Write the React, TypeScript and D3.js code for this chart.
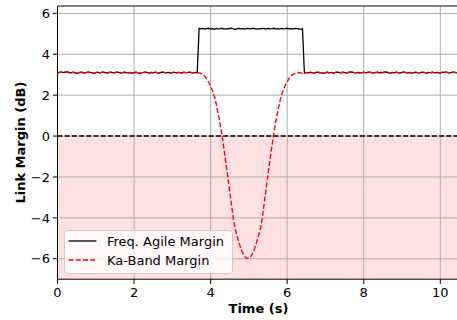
import React, { useRef, useEffect } from "react";
import * as d3 from "d3";

// samples every 0.05 s starting at t = 0
const sampleStep = 0.05;

// t = 0 .. 3.65 s, both links on the same Ka-band margin
const preJump = [
  3.08, 3.11, 3.13, 3.10, 3.12, 3.14, 3.11, 3.09, 3.12, 3.10,
  3.07, 3.09, 3.12, 3.11, 3.08, 3.10, 3.13, 3.11, 3.09, 3.07,
  3.10, 3.12, 3.09, 3.11, 3.13, 3.10, 3.08, 3.11, 3.12, 3.09,
  3.10, 3.13, 3.11, 3.08, 3.10, 3.12, 3.10, 3.09, 3.11, 3.08,
  3.10, 3.12, 3.09, 3.07, 3.10, 3.11, 3.13, 3.10, 3.08, 3.11,
  3.09, 3.12, 3.10, 3.08, 3.11, 3.13, 3.10, 3.09, 3.11, 3.08,
  3.10, 3.12, 3.09, 3.11, 3.10, 3.08, 3.12, 3.10, 3.11, 3.13,
  3.10, 3.09, 3.11, 3.10,
];

// t = 3.70 .. 6.40 s, agile link switched band
const agileHigh = [
  5.27, 5.24, 5.26, 5.23, 5.25, 5.27, 5.24, 5.25, 5.22, 5.26,
  5.24, 5.25, 5.27, 5.23, 5.25, 5.24, 5.26, 5.28, 5.24, 5.22,
  5.25, 5.26, 5.24, 5.25, 5.23, 5.26, 5.25, 5.24, 5.27, 5.25,
  5.23, 5.25, 5.24, 5.26, 5.25, 5.23, 5.26, 5.24, 5.25, 5.27,
  5.24, 5.25, 5.23, 5.26, 5.24, 5.25, 5.27, 5.24, 5.25, 5.23,
  5.26, 5.25, 5.24, 5.22, 5.24,
];

// t = 3.70 .. 6.20 s, Ka-band fade
const kaDip = [
  3.09, 3.06, 3.01, 2.93, 2.78, 2.62, 2.45,
  2.22, 1.93, 1.55, 1.08, 0.56, 0.0, -0.64, -1.32, -2.0, -2.71,
  -3.43, -4.12, -4.6, -4.95, -5.28, -5.55, -5.78, -5.92, -5.99, -5.98,
  -5.89, -5.72, -5.49, -5.2, -4.88, -4.55, -4.0, -3.29, -2.57, -1.86,
  -1.17, -0.51, 0.11, 0.68, 1.18, 1.62, 2.0, 2.25, 2.49, 2.65,
  2.82, 2.94, 3.02, 3.05,
];

// t = 6.25 .. 6.40 s
const kaRecover = [3.08, 3.11, 3.09, 3.07];

// t = 6.45 .. 10.50 s
const postDrop = [
  3.08, 3.11, 3.09, 3.12, 3.10, 3.08, 3.11, 3.13, 3.10, 3.09,
  3.07, 3.10, 3.12, 3.09, 3.11, 3.08, 3.10, 3.13, 3.11, 3.09,
  3.12, 3.10, 3.08, 3.11, 3.14, 3.12, 3.10, 3.09, 3.11, 3.08,
  3.10, 3.12, 3.09, 3.11, 3.13, 3.10, 3.08, 3.10, 3.12, 3.09,
  3.11, 3.10, 3.14, 3.12, 3.10, 3.08, 3.11, 3.09, 3.12, 3.10,
  3.08, 3.11, 3.13, 3.10, 3.09, 3.11, 3.08, 3.10, 3.12, 3.10,
  3.09, 3.11, 3.13, 3.10, 3.08, 3.11, 3.10, 3.12, 3.09, 3.11,
  3.10, 3.08, 3.12, 3.11, 3.13, 3.10, 3.09, 3.11, 3.13, 3.10,
  3.09, 3.11,
];

const freqAgile = [...preJump, ...agileHigh, ...postDrop];
const kaBand = [...preJump, ...kaDip, ...kaRecover, ...postDrop];

const xTicks = [0, 2, 4, 6, 8, 10];
const yTicks = [-6, -4, -2, 0, 2, 4, 6];
const xDomain = [0, 10.5];
const yDomain = [-7, 6.36];

const seriesNames = ["Freq. Agile Margin", "Ka-Band Margin"];

const FONT = "DejaVu Sans, sans-serif";

const App = () => {
  const chartRef = useRef(null);

  useEffect(() => {
    const root = d3.select(chartRef.current);
    root.selectAll("*").remove();

    const W = 457;
    const H = 320;
    const left = 57.5;
    const top = 6;
    const bottom = 279.2;
    const right = left + 38.28 * 10.5;

    const x = d3.scaleLinear().domain(xDomain).range([left, right]);
    const y = d3.scaleLinear().domain(yDomain).range([bottom, top]);

    const svg = root
      .append("svg")
      .attr("width", W)
      .attr("height", H)
      .style("position", "absolute")
      .style("left", 0)
      .style("top", 0)
      .style("font-family", FONT);

    svg.append("rect").attr("width", W).attr("height", H).attr("fill", "white");

    svg
      .append("clipPath")
      .attr("id", "plot-clip")
      .append("rect")
      .attr("x", left)
      .attr("y", top)
      .attr("width", right - left)
      .attr("height", bottom - top);

    const plot = svg.append("g").attr("clip-path", "url(#plot-clip)");

    // negative margin zone
    plot
      .append("rect")
      .attr("x", x(xDomain[0]))
      .attr("y", y(0))
      .attr("width", x(xDomain[1]) - x(xDomain[0]))
      .attr("height", y(yDomain[0]) - y(0))
      .attr("fill", "#ffe1e3");

    // grid
    plot
      .selectAll(".gx")
      .data(xTicks)
      .enter()
      .append("line")
      .attr("x1", (d) => x(d))
      .attr("x2", (d) => x(d))
      .attr("y1", top)
      .attr("y2", bottom)
      .attr("stroke", "#b0b0b0")
      .attr("stroke-width", 1);

    plot
      .selectAll(".gy")
      .data(yTicks)
      .enter()
      .append("line")
      .attr("x1", left)
      .attr("x2", right)
      .attr("y1", (d) => y(d))
      .attr("y2", (d) => y(d))
      .attr("stroke", "#b0b0b0")
      .attr("stroke-width", 1);

    // zero line
    plot
      .append("line")
      .attr("x1", left)
      .attr("x2", right)
      .attr("y1", y(0))
      .attr("y2", y(0))
      .attr("stroke", "black")
      .attr("stroke-width", 1.4)
      .attr("stroke-dasharray", "5,2.2");

    const line = d3
      .line()
      .x((_, i) => x(i * sampleStep))
      .y((d) => y(d));

    plot
      .append("path")
      .attr("d", line(freqAgile))
      .attr("fill", "none")
      .attr("stroke", "black")
      .attr("stroke-width", 1.3);

    plot
      .append("path")
      .attr("d", line(kaBand))
      .attr("fill", "none")
      .attr("stroke", "#ff0000")
      .attr("stroke-width", 1.4)
      .attr("stroke-dasharray", "5,2.2");

    // spines
    const spine = (x1, y1, x2, y2) =>
      svg
        .append("line")
        .attr("x1", x1)
        .attr("y1", y1)
        .attr("x2", x2)
        .attr("y2", y2)
        .attr("stroke", "black")
        .attr("stroke-width", 1);
    spine(left, top, left, bottom);
    spine(left, bottom, right, bottom);
    spine(left, top, right, top);

    // x ticks
    const xt = svg
      .selectAll(".xt")
      .data(xTicks)
      .enter()
      .append("g")
      .attr("transform", (d) => `translate(${x(d)},${bottom})`);
    xt.append("line").attr("y2", 4.7).attr("stroke", "black").attr("stroke-width", 1);
    xt
      .append("text")
      .attr("y", 18)
      .attr("text-anchor", "middle")
      .style("font-size", "13px")
      .text((d) => d);

    // y ticks
    const yt = svg
      .selectAll(".yt")
      .data(yTicks)
      .enter()
      .append("g")
      .attr("transform", (d) => `translate(${left},${y(d)})`);
    yt.append("line").attr("x2", -4.7).attr("stroke", "black").attr("stroke-width", 1);
    yt
      .append("text")
      .attr("x", -7.5)
      .attr("dy", "0.36em")
      .attr("text-anchor", "end")
      .style("font-size", "13px")
      .text((d) => (d < 0 ? `\u2212${Math.abs(d)}` : d));

    svg
      .append("text")
      .attr("x", (left + right) / 2)
      .attr("y", 313)
      .attr("text-anchor", "middle")
      .style("font-size", "13px")
      .style("font-weight", "bold")
      .text("Time (s)");

    svg
      .append("text")
      .attr("transform", `translate(24.5,${(top + bottom) / 2}) rotate(-90)`)
      .attr("text-anchor", "middle")
      .style("font-size", "13px")
      .style("font-weight", "bold")
      .text("Link Margin (dB)");

    // legend
    const legend = svg.append("g").attr("transform", "translate(64.5,230.5)");
    legend
      .append("rect")
      .attr("width", 168)
      .attr("height", 43)
      .attr("rx", 3)
      .attr("fill", "white")
      .attr("fill-opacity", 0.8)
      .attr("stroke", "#cccccc")
      .attr("stroke-width", 1);

    const items = legend
      .selectAll(".li")
      .data(seriesNames)
      .enter()
      .append("g")
      .attr("transform", (_, i) => `translate(0,${10.5 + i * 19})`);
    items
      .append("line")
      .attr("x1", 4)
      .attr("x2", 32)
      .attr("stroke", (_, i) => (i === 0 ? "black" : "#ff0000"))
      .attr("stroke-width", (_, i) => (i === 0 ? 1.3 : 1.4))
      .attr("stroke-dasharray", (_, i) => (i === 0 ? null : "5,2.2"));
    items
      .append("text")
      .attr("x", 42.5)
      .attr("dy", "0.36em")
      .style("font-size", "13px")
      .text((d) => d);
  }, []);

  return <div ref={chartRef}></div>;
};

export default App;
